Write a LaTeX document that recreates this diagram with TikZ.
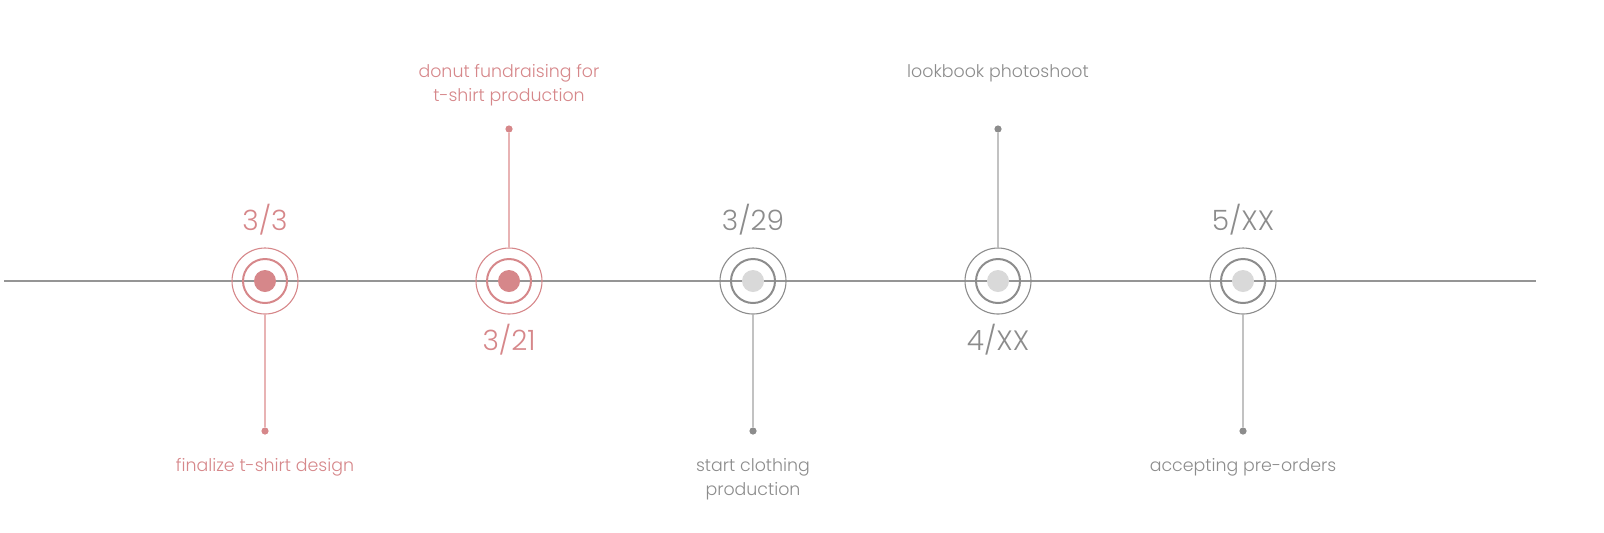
\documentclass[tikz,border=0pt]{standalone}
\usepackage{fontspec}
\setmainfont{Poppins}[UprightFont=* Light]
\definecolor{pk}{HTML}{D6878A}
\definecolor{pkl}{HTML}{E8B3B4}
\definecolor{gr}{HTML}{8C8C8C}
\definecolor{grl}{HTML}{C2C2C2}
\definecolor{grf}{HTML}{D9D9D9}
\definecolor{axis}{HTML}{959595}
\begin{document}
\begin{tikzpicture}[x=0.5pt,y=-0.5pt,
  outer/.style={circle,draw,line width=0.55pt,minimum size=33pt,inner sep=0pt},
  inner/.style={circle,draw,line width=1pt,minimum size=22pt,inner sep=0pt},
  core/.style={circle,minimum size=11pt,inner sep=0pt},
  pin/.style={circle,minimum size=3.6pt,inner sep=0pt},
  date/.style={font=\fontsize{14}{16}\selectfont,inner sep=0pt},
  desc/.style={font=\fontsize{8.7}{12}\selectfont,align=center,inner sep=0pt},
  stem/.style={line width=0.55pt}]
\useasboundingbox (0,0) rectangle (1604,532);
\coordinate (L) at (4,281);
\coordinate (R) at (1536,281);
\draw[axis,line width=0.7pt] (L) -- (R);
% event 1
\node[outer,pk] (o1) at (265,281) {};
\node[inner,pk] (i1) at (265,281) {};
\node[core,fill=pk] (c1) at (265,281) {};
\node[pin,fill=pk] (p1) at (265,431) {};
\draw[stem,pkl] (o1.south) -- (p1);
\node[date,text=pk] (d1) at (265,220) {3/3};
\node[desc,text=pk] (t1) at (265,467) {finalize t-shirt design};
% event 2
\node[outer,pk] (o2) at (509,281) {};
\node[inner,pk] (i2) at (509,281) {};
\node[core,fill=pk] (c2) at (509,281) {};
\node[pin,fill=pk] (p2) at (509,129) {};
\draw[stem,pkl] (o2.north) -- (p2);
\node[date,text=pk] (d2) at (509,340) {3/21};
\node[desc,text=pk] (t2) at (509,85) {donut fundraising for\\t-shirt production};
% event 3
\node[outer,gr] (o3) at (753,281) {};
\node[inner,gr] (i3) at (753,281) {};
\node[core,fill=grf] (c3) at (753,281) {};
\node[pin,fill=gr] (p3) at (753,431) {};
\draw[stem,grl] (o3.south) -- (p3);
\node[date,text=gr] (d3) at (753,220) {3/29};
\node[desc,text=gr] (t3) at (753,479) {start clothing\\production};
% event 4
\node[outer,gr] (o4) at (998,281) {};
\node[inner,gr] (i4) at (998,281) {};
\node[core,fill=grf] (c4) at (998,281) {};
\node[pin,fill=gr] (p4) at (998,129) {};
\draw[stem,grl] (o4.north) -- (p4);
\node[date,text=gr] (d4) at (998,340) {4/XX};
\node[desc,text=gr] (t4) at (998,73) {lookbook photoshoot};
% event 5
\node[outer,gr] (o5) at (1243,281) {};
\node[inner,gr] (i5) at (1243,281) {};
\node[core,fill=grf] (c5) at (1243,281) {};
\node[pin,fill=gr] (p5) at (1243,431) {};
\draw[stem,grl] (o5.south) -- (p5);
\node[date,text=gr] (d5) at (1243,220) {5/XX};
\node[desc,text=gr] (t5) at (1243,467) {accepting pre-orders};
\end{tikzpicture}
\end{document}
